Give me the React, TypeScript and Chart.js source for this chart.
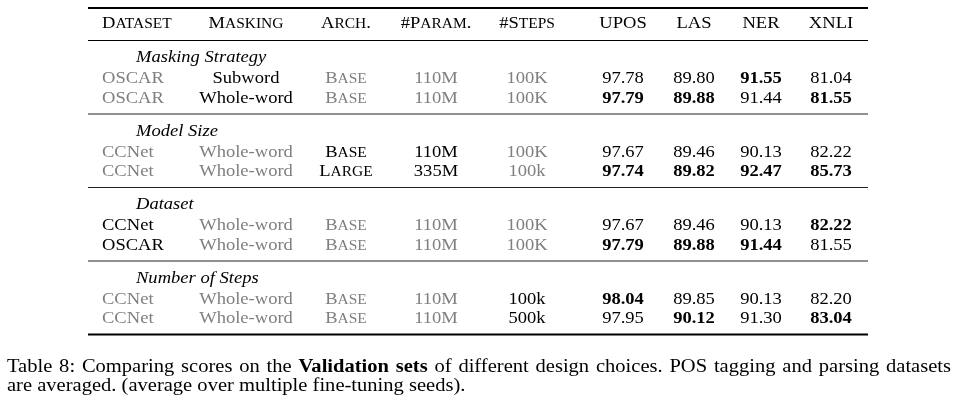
import React, { useEffect, useRef } from "react";
import { Chart, registerables } from "chart.js";

Chart.register(...registerables);

// ---------------- DATA ----------------
const COLUMNS = ["Dataset", "Masking", "Arch.", "#Param.", "#Steps", "UPOS", "LAS", "NER", "XNLI"];
const SECTIONS = ["Masking Strategy", "Model Size", "Dataset", "Number of Steps"];
// which attribute column(s) vary inside each section (drawn black, others gray)
const SECTION_FOCUS = [["Masking"], ["Arch.", "#Param."], ["Dataset"], ["#Steps"]];

const DATASET = ["OSCAR", "OSCAR", "CCNet", "CCNet", "CCNet", "OSCAR", "CCNet", "CCNet"];
const MASKING = ["Subword", "Whole-word", "Whole-word", "Whole-word", "Whole-word", "Whole-word", "Whole-word", "Whole-word"];
const ARCH = ["Base", "Base", "Base", "Large", "Base", "Base", "Base", "Base"];
const PARAMS = ["110M", "110M", "110M", "335M", "110M", "110M", "110M", "110M"];
const STEPS = ["100K", "100K", "100K", "100k", "100K", "100K", "100k", "500k"];
const UPOS = [97.78, 97.79, 97.67, 97.74, 97.67, 97.79, 98.04, 97.95];
const LAS = [89.8, 89.88, 89.46, 89.82, 89.46, 89.88, 89.85, 90.12];
const NER = [91.55, 91.44, 90.13, 92.47, 90.13, 91.44, 90.13, 91.3];
const XNLI = [81.04, 81.55, 82.22, 85.73, 82.22, 81.55, 82.2, 83.04];
const UPOS_BOLD = [false, true, false, true, false, true, true, false];
const LAS_BOLD = [false, true, false, true, false, true, false, true];
const NER_BOLD = [true, false, false, true, false, true, false, false];
const XNLI_BOLD = [false, true, false, true, true, false, false, true];

const CAPTION_1: [string, boolean][] = [
  ["Table 8: Comparing scores on the", false],
  ["Validation sets", true],
  ["of different design choices. POS tagging and parsing datasets", false],
];
const CAPTION_2 = "are averaged. (average over multiple fine-tuning seeds).";

// ---------------- LAYOUT / STYLE ----------------
const W = 959;
const H = 407;
const FAMILY = '"Liberation Serif"';
const FS = 17.5;
const SMALL = 14.6;
const SX = 1.06;
const CAP_FS = 18.5;
const CAP_SX = 1.11;
const GRAY = "#7f7f7f";
const COL_X = [102, 246, 346, 436, 527, 623, 694, 761, 831];
const COL_ALIGN = ["left", "center", "center", "center", "center", "center", "center", "center", "center"];
const SMALLCAPS_COL = [false, false, true, false, false, false, false, false, false];
const TABLE_L = 88;
const TABLE_R = 868;
const HEADER_BASE = 28;
const SECTION_TOP = 40.5;
const SECTION_H = 73.5;
const TITLE_OFF = 21.5;
const ROW_OFF = [42.5, 62];
const TITLE_X = 136;
const CAP_X = 7;
const CAP_R = 951;
const CAP_BASE = [372, 391];

const ATTRS = [DATASET, MASKING, ARCH, PARAMS, STEPS];
const METRICS = [UPOS, LAS, NER, XNLI];
const METRIC_BOLD = [UPOS_BOLD, LAS_BOLD, NER_BOLD, XNLI_BOLD];

function rowY(r: number) {
  const s = Math.floor(r / 2);
  return SECTION_TOP + s * SECTION_H + ROW_OFF[r % 2];
}

function font(size: number, bold = false, italic = false) {
  return `${italic ? "italic " : ""}${bold ? "bold " : ""}${size}px ${FAMILY}`;
}

type Run = { text: string; font: string };

function runsFor(text: string, smallCaps: boolean, bold: boolean, italic = false): Run[] {
  if (!smallCaps) return [{ text, font: font(FS, bold, italic) }];
  const runs: Run[] = [];
  for (const ch of text) {
    const lower = ch !== ch.toUpperCase();
    const f = font(lower ? SMALL : FS, bold, italic);
    const t = lower ? ch.toUpperCase() : ch;
    const last = runs[runs.length - 1];
    if (last && last.font === f) last.text += t;
    else runs.push({ text: t, font: f });
  }
  return runs;
}

function drawRuns(ctx: CanvasRenderingContext2D, runs: Run[], x: number, y: number, align: string, color: string, sx: number) {
  const widths = runs.map((r) => {
    ctx.font = r.font;
    return ctx.measureText(r.text).width * sx;
  });
  const total = widths.reduce((a, b) => a + b, 0);
  let cx = align === "center" ? x - total / 2 : align === "right" ? x - total : x;
  ctx.fillStyle = color;
  ctx.textAlign = "left";
  ctx.textBaseline = "alphabetic";
  runs.forEach((r, i) => {
    ctx.font = r.font;
    ctx.save();
    ctx.translate(cx, y);
    ctx.scale(sx, 1);
    ctx.fillText(r.text, 0, 0);
    ctx.restore();
    cx += widths[i];
  });
}

const tablePlugin = {
  id: "tableText",
  afterDraw(chart: any) {
    const ctx: CanvasRenderingContext2D = chart.ctx;
    const xs = chart.scales.x;
    const ys = chart.scales.y;
    ctx.save();

    const rule = (yv: number, w: number, color: string) => {
      const y = ys.getPixelForValue(yv);
      ctx.strokeStyle = color;
      ctx.lineWidth = w;
      ctx.beginPath();
      ctx.moveTo(xs.getPixelForValue(TABLE_L), y);
      ctx.lineTo(xs.getPixelForValue(TABLE_R), y);
      ctx.stroke();
    };
    rule(8, 2, "#000");
    rule(SECTION_TOP, 1.1, "#000");
    for (let s = 1; s < SECTIONS.length; s++) rule(SECTION_TOP + s * SECTION_H, 1.2, "#222");
    rule(SECTION_TOP + SECTIONS.length * SECTION_H, 2, "#000");

    // header
    COLUMNS.forEach((c, i) => {
      drawRuns(ctx, runsFor(c, i < 5, false), xs.getPixelForValue(COL_X[i]), ys.getPixelForValue(HEADER_BASE), COL_ALIGN[i], "#000", SX);
    });

    // section titles
    SECTIONS.forEach((t, s) => {
      drawRuns(ctx, runsFor(t, false, false, true), xs.getPixelForValue(TITLE_X), ys.getPixelForValue(SECTION_TOP + s * SECTION_H + TITLE_OFF), "left", "#000", SX);
    });

    // cells from dataset point elements
    chart.data.datasets.forEach((ds: any, di: number) => {
      const meta = chart.getDatasetMeta(di);
      meta.data.forEach((pt: any, i: number) => {
        const cell = ds.cells[i];
        drawRuns(ctx, runsFor(cell.text, SMALLCAPS_COL[di], cell.bold), pt.x, pt.y, COL_ALIGN[di], cell.color, SX);
      });
    });

    // caption line 1 (justified)
    const words: { text: string; bold: boolean }[] = [];
    CAPTION_1.forEach(([t, b]) => t.split(" ").forEach((w) => words.push({ text: w, bold: b })));
    const ww = words.map((w) => {
      ctx.font = font(CAP_FS, w.bold);
      return ctx.measureText(w.text).width * CAP_SX;
    });
    const sum = ww.reduce((a, b) => a + b, 0);
    const gap = (CAP_R - CAP_X - sum) / (words.length - 1);
    let cx = CAP_X;
    words.forEach((w, i) => {
      ctx.font = font(CAP_FS, w.bold);
      ctx.save();
      ctx.translate(cx, CAP_BASE[0]);
      ctx.scale(CAP_SX, 1);
      ctx.fillStyle = "#000";
      ctx.fillText(w.text, 0, 0);
      ctx.restore();
      cx += ww[i] + gap;
    });
    drawRuns(ctx, [{ text: CAPTION_2, font: font(CAP_FS) }], CAP_X, CAP_BASE[1], "left", "#000", CAP_SX);

    ctx.restore();
  },
};

function buildDatasets() {
  const sets: any[] = [];
  ATTRS.forEach((arr, c) => {
    sets.push({
      label: COLUMNS[c],
      data: arr.map((_, r) => ({ x: COL_X[c], y: rowY(r) })),
      cells: arr.map((t, r) => ({
        text: t,
        bold: false,
        color: SECTION_FOCUS[Math.floor(r / 2)].includes(COLUMNS[c]) ? "#000" : GRAY,
      })),
      pointRadius: 0,
    });
  });
  METRICS.forEach((arr, m) => {
    const c = 5 + m;
    sets.push({
      label: COLUMNS[c],
      data: arr.map((_, r) => ({ x: COL_X[c], y: rowY(r) })),
      cells: arr.map((v, r) => ({ text: v.toFixed(2), bold: METRIC_BOLD[m][r], color: "#000" })),
      pointRadius: 0,
    });
  });
  return sets;
}

export default function App() {
  const ref = useRef<HTMLCanvasElement>(null);
  useEffect(() => {
    document.body.style.margin = "0";
    const chart = new Chart(ref.current!, {
      type: "scatter",
      data: { datasets: buildDatasets() },
      options: {
        animation: false,
        responsive: false,
        devicePixelRatio: 1,
        layout: { padding: 0 },
        events: [],
        plugins: { legend: { display: false }, tooltip: { enabled: false }, title: { display: false } },
        scales: {
          x: { type: "linear", min: 0, max: W, display: false },
          y: { type: "linear", min: 0, max: H, reverse: true, display: false },
        },
      } as any,
      plugins: [tablePlugin],
    });
    return () => {
      chart.destroy();
    };
  }, []);
  return (
    <div style={{ width: W, height: H, background: "#fff" }}>
      <canvas ref={ref} width={W} height={H} style={{ display: "block", width: W, height: H }} />
    </div>
  );
}
